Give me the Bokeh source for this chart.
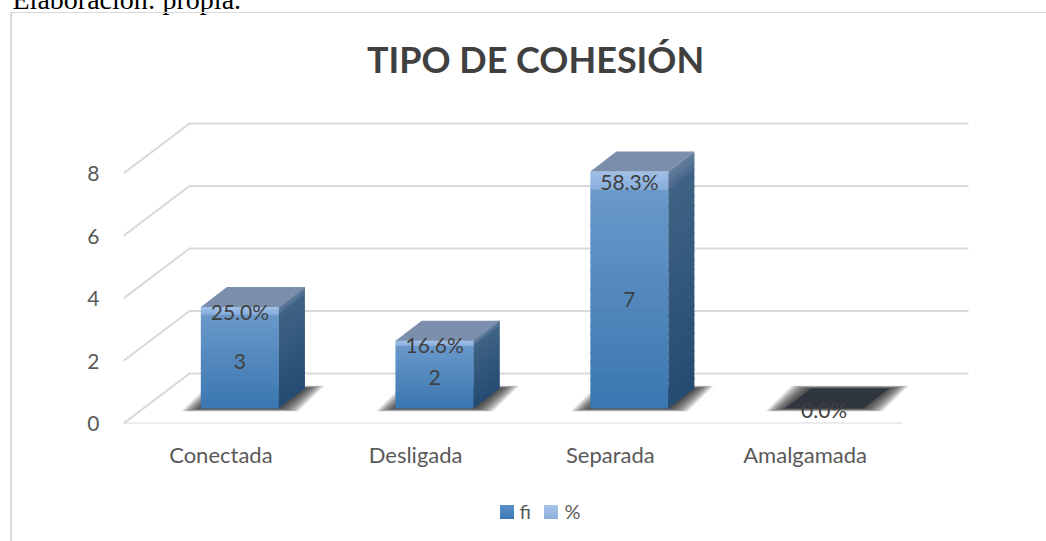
from bokeh.plotting import figure
from bokeh.models import Label, FixedTicker, Range1d, LinearAxis, InlineStyleSheet
from bokeh.core.properties import value
from bokeh.embed import file_html
from bokeh.resources import INLINE

categories = ["Conectada", "Desligada", "Separada", "Amalgamada"]
fi = [3, 2, 7, 0]
pct = [0.25, 0.166, 0.583, 0.0]
pct_labels = ["25.0%", "16.6%", "58.3%", "0.0%"]
y_ticks = [0, 2, 4, 6, 8]
chart_title = "TIPO DE COHESIÓN"
caption = "Elaboración: propia."
legend_labels = ["fi", "%"]

W, H = 1046, 541
L, R, T, B = 123, 46, 100, 118
PX_X, PX_Y = 194.75, 31.25
FONT = value("Lato")
TEXT = "#404040"
GRID = "#d9d9d9"

ux = lambda px: px / PX_X
uy = lambda px: px / PX_Y

css = InlineStyleSheet(css="""
:host { position: relative; }
:host::before { content: ''; position: absolute; z-index: 5; left: 10px; top: 12px; right: 0; bottom: 0;
  border-left: 2px solid #d9d9d9; border-top: 1px solid #d9d9d9; pointer-events: none; }
:host::after { content: ''; position: absolute; z-index: 5; left: 500px; top: 505px; width: 58px; height: 14px;
  background-image: linear-gradient(#5a90c7, #3a78b4), linear-gradient(#a9c5ea, #8cb0dc);
  background-size: 14px 14px, 14px 14px; background-position: 0 0, 44px 0;
  background-repeat: no-repeat; pointer-events: none; }
""")

p = figure(width=W, height=H, output_backend="svg", toolbar_location=None,
           min_border_left=L, min_border_right=R,
           min_border_top=T, min_border_bottom=B,
           x_range=Range1d(0, (W - L - R) / PX_X),
           y_range=Range1d(0, (H - T - B) / PX_Y),
           outline_line_color=None, x_axis_type=None, y_axis_type=None,
           stylesheets=[css])
p.grid.visible = False


def lerp(c1, c2, t):
    a = [int(c1[i:i + 2], 16) for i in (1, 3, 5)]
    b = [int(c2[i:i + 2], 16) for i in (1, 3, 5)]
    return "#%02x%02x%02x" % tuple(round(u + (v - u) * t) for u, v in zip(a, b))


# Axes
yax = LinearAxis(ticker=FixedTicker(ticks=y_ticks), axis_line_color=None,
                 major_tick_line_color=None, minor_tick_line_color=None,
                 major_label_text_font="Lato", major_label_text_font_size="21px",
                 major_label_text_color="#595959", major_label_standoff=18)
p.add_layout(yax, "left")
xax = LinearAxis(ticker=FixedTicker(ticks=[i + 0.5 for i in range(len(categories))]),
                 major_label_overrides={i + 0.5: c for i, c in enumerate(categories)},
                 axis_line_color=None, major_tick_line_color=None, minor_tick_line_color=None,
                 major_label_text_font="Lato", major_label_text_font_size="22px",
                 major_label_text_color="#595959", major_label_standoff=11)
p.add_layout(xax, "below")

# Walls and floor
WALL_DX, WALL_DY = ux(66), uy(50)
WALL_END = ux(968 - L)
n_cat = len(categories)
for t in y_ticks:
    p.line([0, WALL_DX, WALL_END], [t, t + WALL_DY, t + WALL_DY], line_color=GRID, line_width=2)
p.line([0, float(n_cat)], [0, 0], line_color=GRID, line_width=2)

# Bars
BASE = uy(15)
OFFSET = ux(19)
BW = ux(78)
DX, DY = ux(26), uy(20)
N = 24
centers = [i + 0.5 + OFFSET for i in range(n_cat)]

# Floor shadows
LAYERS = 14
for k in range(LAYERS):
    gx = (LAYERS - 1 - k) * 1.5
    gy = (LAYERS - 1 - k) * 0.22
    xs, ys = [], []
    for c in centers:
        x0, x1 = c - BW / 2, c + BW / 2
        y0 = BASE
        xs.append([x0 - ux(gx), x1 + ux(gx), x1 + DX + ux(gx), x0 + DX - ux(gx)])
        ys.append([y0 - uy(gy), y0 - uy(gy), y0 + DY + uy(gy), y0 + DY + uy(gy)])
    p.patches(xs, ys, fill_color="#202020", fill_alpha=0.10, line_color=None)

# Side faces, front faces
OV = 0.06
for i, c in enumerate(centers):
    x0, x1 = c - BW / 2, c + BW / 2
    v, w = fi[i], pct[i]
    if v + w == 0:
        p.patches([[x0, x1, x1 + DX, x0 + DX]], [[BASE, BASE, BASE + DY, BASE + DY]],
                  fill_color="#2f3640", line_color=None)
        continue
    for s in range(N):
        a, b = s / N, (s + 1) / N
        ya, yb = BASE + v * a, BASE + v * b
        front = lerp("#3a76b0", "#6a99ca", (a + b) / 2)
        side = lerp("#244b72", "#3f6385", (a + b) / 2)
        p.quad(left=[x0], right=[x1], bottom=[ya], top=[yb + OV], fill_color=front, line_color=None)
        p.patches([[x1, x1 + DX, x1 + DX, x1]], [[ya, ya + DY, yb + DY + OV, yb + OV]],
                  fill_color=side, line_color=None)
    for s in range(4):
        a, b = s / 4, (s + 1) / 4
        ya, yb = BASE + v + w * a, BASE + v + w * b
        ov = OV if s < 3 else 0
        p.quad(left=[x0], right=[x1], bottom=[ya], top=[yb + ov],
               fill_color=lerp("#86acdb", "#a2c1e8", (a + b) / 2), line_color=None)
        p.patches([[x1, x1 + DX, x1 + DX, x1]], [[ya, ya + DY, yb + DY + ov, yb + ov]],
                  fill_color=lerp("#47678a", "#66809f", (a + b) / 2), line_color=None)
    top = BASE + v + w
    p.patches([[x0, x1, x1 + DX, x0 + DX]], [[top, top, top + DY, top + DY]],
              fill_color="#7b8fac", line_color=None)

# Data labels
lx, ly, lt = [], [], []
for i, c in enumerate(centers):
    if fi[i] > 0:
        lx.append(c); ly.append(BASE + fi[i] / 2); lt.append(str(fi[i]))
    lx.append(c); ly.append(BASE + fi[i] + pct[i] / 2 - uy(1)); lt.append(pct_labels[i])
p.text(lx, ly, text=lt, text_font=FONT, text_font_size="21px", text_color=TEXT,
       text_align="center", text_baseline="middle")

# Legend texts (side panels, so that the frame does not cut them)
p.add_layout(Label(x=519 - L, y=-16, x_units="screen", y_units="screen", text=legend_labels[0],
                   text_font="Lato", text_font_size="20px", text_color="#595959",
                   text_align="left", text_baseline="middle"), "below")
p.add_layout(Label(x=564 - L, y=8, x_units="screen", y_units="screen", text=legend_labels[1],
                   text_font="Lato", text_font_size="20px", text_color="#595959",
                   text_align="left", text_baseline="middle"), "below")

# Title, caption
p.add_layout(Label(x=535 - L, y=42, x_units="screen", y_units="screen", text=chart_title,
                   text_font="Lato", text_font_style="bold", text_font_size="36px",
                   text_color="#404040", text_align="center", text_baseline="middle"), "above")
p.add_layout(Label(x=12 - L, y=57, x_units="screen", y_units="screen", text=caption,
                   text_font="Liberation Serif", text_font_size="28px", text_color="#000000",
                   text_align="left", text_baseline="alphabetic"), "above")

open("out.html", "w").write(file_html(p, INLINE))
